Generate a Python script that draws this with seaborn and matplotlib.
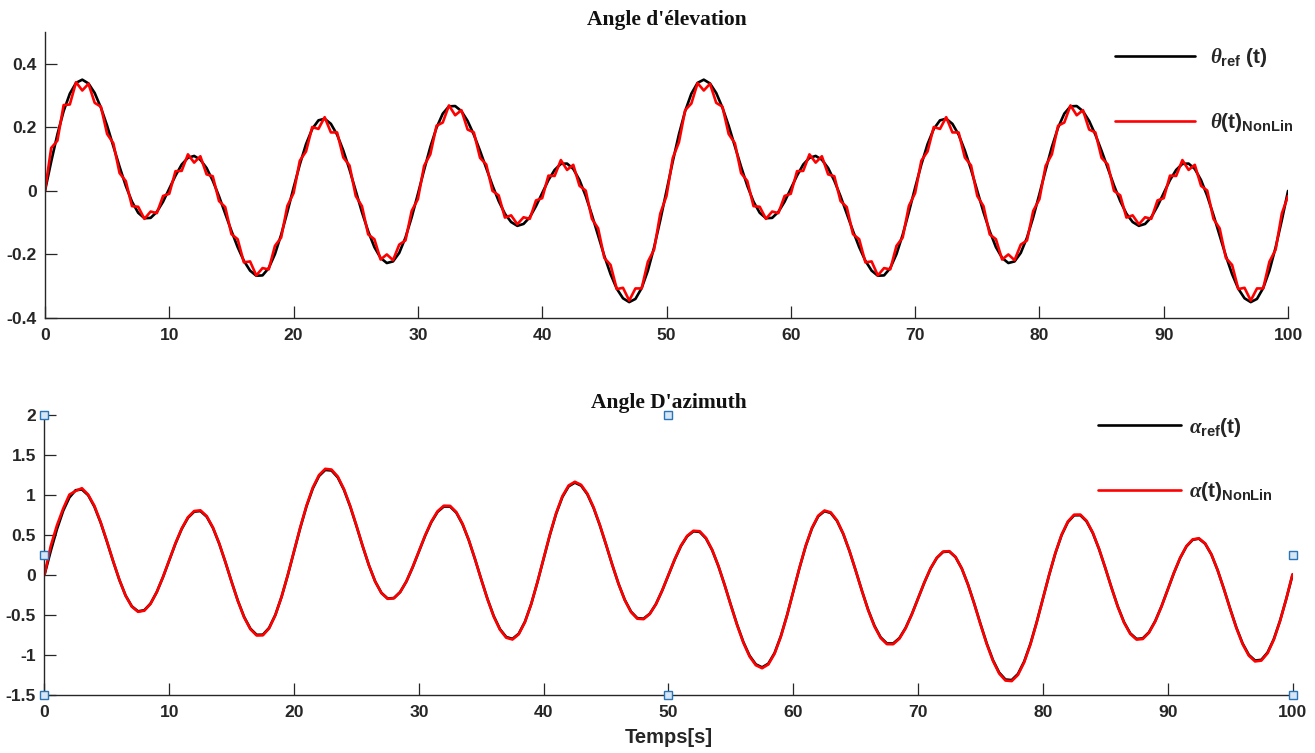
import numpy as np
import matplotlib
matplotlib.use("Agg")
import matplotlib.pyplot as plt
import seaborn as sns

# ---------------- data ----------------
time_s = np.arange(0, 100.5, 0.5)  # sampling grid, seconds

theta_ref = [
    0.000, 0.092, 0.178, 0.251, 0.306, 0.340, 0.350, 0.338, 0.308, 0.262,
    0.205, 0.141, 0.076, 0.016, -0.034, -0.069, -0.086, -0.085, -0.066, -0.034,
    0.007, 0.048, 0.083, 0.104, 0.110, 0.098, 0.072, 0.032, -0.017, -0.071,
    -0.126, -0.177, -0.220, -0.251, -0.267, -0.266, -0.243, -0.199, -0.138, -0.066,
    0.010, 0.083, 0.147, 0.195, 0.222, 0.227, 0.211, 0.177, 0.127, 0.067,
    0.000,
    -0.067, -0.127, -0.177, -0.211, -0.227, -0.222, -0.195, -0.147, -0.083, -0.010,
    0.066, 0.138, 0.199, 0.243, 0.266, 0.267, 0.251, 0.220, 0.177, 0.126,
    0.071, 0.017, -0.032, -0.072, -0.098, -0.110, -0.104, -0.083, -0.048, -0.007,
    0.034, 0.066, 0.085, 0.086, 0.069, 0.034, -0.016, -0.076, -0.141, -0.205,
    -0.262, -0.308, -0.338, -0.350, -0.340, -0.306, -0.251, -0.178, -0.092, 0.000,
    0.092, 0.178, 0.251, 0.306, 0.340, 0.350, 0.338, 0.308, 0.262,
    0.205, 0.141, 0.076, 0.016, -0.034, -0.069, -0.086, -0.085, -0.066, -0.034,
    0.007, 0.048, 0.083, 0.104, 0.110, 0.098, 0.072, 0.032, -0.017, -0.071,
    -0.126, -0.177, -0.220, -0.251, -0.267, -0.266, -0.243, -0.199, -0.138, -0.066,
    0.010, 0.083, 0.147, 0.195, 0.222, 0.227, 0.211, 0.177, 0.127, 0.067,
    0.000,
    -0.067, -0.127, -0.177, -0.211, -0.227, -0.222, -0.195, -0.147, -0.083, -0.010,
    0.066, 0.138, 0.199, 0.243, 0.266, 0.267, 0.251, 0.220, 0.177, 0.126,
    0.071, 0.017, -0.032, -0.072, -0.098, -0.110, -0.104, -0.083, -0.048, -0.007,
    0.034, 0.066, 0.085, 0.086, 0.069, 0.034, -0.016, -0.076, -0.141, -0.205,
    -0.262, -0.308, -0.338, -0.350, -0.340, -0.306, -0.251, -0.178, -0.092, 0.000,
]

theta_nonlin = [
    0.000, 0.135, 0.158, 0.270, 0.272, 0.342, 0.316, 0.337, 0.277, 0.265,
    0.179, 0.150, 0.056, 0.031, -0.048, -0.050, -0.088, -0.065, -0.070, -0.016,
    -0.009, 0.062, 0.063, 0.115, 0.089, 0.109, 0.052, 0.046, -0.032, -0.051,
    -0.136, -0.152, -0.225, -0.222, -0.266, -0.243, -0.247, -0.173, -0.147, -0.047,
    -0.007, 0.095, 0.124, 0.201, 0.195, 0.232, 0.184, 0.184, 0.105, 0.080,
    -0.016,
    -0.048, -0.137, -0.152, -0.216, -0.200, -0.218, -0.169, -0.156, -0.063, -0.026,
    0.079, 0.115, 0.205, 0.215, 0.269, 0.238, 0.254, 0.193, 0.184, 0.104,
    0.083, 0.000, -0.014, -0.084, -0.077, -0.105, -0.083, -0.088, -0.030, -0.023,
    0.048, 0.047, 0.097, 0.066, 0.082, 0.016, 0.001, -0.088, -0.118, -0.211,
    -0.233, -0.309, -0.305, -0.345, -0.307, -0.307, -0.223, -0.185, -0.071, -0.016,
    0.103, 0.153, 0.254, 0.275, 0.339, 0.316, 0.337, 0.277, 0.265,
    0.179, 0.150, 0.056, 0.031, -0.048, -0.050, -0.088, -0.065, -0.070, -0.016,
    -0.009, 0.062, 0.063, 0.115, 0.089, 0.109, 0.052, 0.046, -0.032, -0.051,
    -0.136, -0.152, -0.225, -0.222, -0.266, -0.243, -0.247, -0.173, -0.147, -0.047,
    -0.007, 0.095, 0.124, 0.201, 0.195, 0.232, 0.184, 0.184, 0.105, 0.080,
    -0.016,
    -0.048, -0.137, -0.152, -0.216, -0.200, -0.218, -0.169, -0.156, -0.063, -0.026,
    0.079, 0.115, 0.205, 0.215, 0.269, 0.238, 0.254, 0.193, 0.184, 0.104,
    0.083, 0.000, -0.014, -0.084, -0.077, -0.105, -0.083, -0.088, -0.030, -0.023,
    0.048, 0.047, 0.097, 0.066, 0.082, 0.016, 0.001, -0.088, -0.118, -0.211,
    -0.233, -0.309, -0.305, -0.345, -0.307, -0.307, -0.223, -0.185, -0.071, -0.016,
]

alpha_ref = [
    0.000, 0.298, 0.572, 0.802, 0.969, 1.060, 1.069, 0.998, 0.855, 0.656,
    0.420, 0.173, -0.060, -0.256, -0.391, -0.454, -0.440, -0.357, -0.213, -0.026,
    0.184, 0.393, 0.576, 0.715, 0.792, 0.799, 0.729, 0.589, 0.393, 0.160,
    -0.087, -0.323, -0.524, -0.670, -0.747, -0.746, -0.661, -0.499, -0.272, 0.000,
    0.297, 0.591, 0.860, 1.081, 1.237, 1.313, 1.306, 1.220, 1.064, 0.855,
    0.612, 0.358, 0.120, -0.081, -0.223, -0.294, -0.288, -0.213, -0.081, 0.095,
    0.293, 0.489, 0.661, 0.789, 0.856, 0.855, 0.779, 0.634, 0.435, 0.197,
    -0.056, -0.300, -0.514, -0.677, -0.775, -0.798, -0.734, -0.584, -0.363, -0.090,
    0.207, 0.502, 0.766, 0.975, 1.108, 1.154, 1.117, 1.009, 0.838, 0.621,
    0.377, 0.125, -0.111, -0.311, -0.458, -0.539, -0.546, -0.484, -0.362, -0.193,
    0.000,
    0.193, 0.362, 0.484, 0.546, 0.539, 0.458, 0.311, 0.111, -0.125, -0.377,
    -0.621, -0.838, -1.009, -1.117, -1.154, -1.108, -0.975, -0.766, -0.502, -0.207,
    0.090, 0.363, 0.584, 0.734, 0.798, 0.775, 0.677, 0.514, 0.300, 0.056,
    -0.197, -0.435, -0.634, -0.779, -0.855, -0.856, -0.789, -0.661, -0.489, -0.293,
    -0.095, 0.081, 0.213, 0.288, 0.294, 0.223, 0.081, -0.120, -0.358, -0.612,
    -0.855, -1.064, -1.220, -1.306, -1.313, -1.237, -1.081, -0.860, -0.591, -0.297,
    0.000, 0.272, 0.499, 0.661, 0.746, 0.747, 0.670, 0.524, 0.323, 0.087,
    -0.160, -0.393, -0.589, -0.729, -0.799, -0.792, -0.715, -0.576, -0.393, -0.184,
    0.026, 0.213, 0.357, 0.440, 0.454, 0.391, 0.256, 0.060, -0.173, -0.420,
    -0.656, -0.855, -0.998, -1.069, -1.060, -0.969, -0.802, -0.572, -0.298, 0.000,
]

alpha_nonlin = [
    0.000, 0.360, 0.620, 0.830, 1.005, 1.050, 1.085, 1.005, 0.865, 0.662,
    0.425, 0.176, -0.058, -0.258, -0.395, -0.460, -0.446, -0.360, -0.213, -0.024,
    0.188, 0.398, 0.582, 0.722, 0.800, 0.808, 0.736, 0.594, 0.396, 0.161,
    -0.088, -0.326, -0.530, -0.677, -0.756, -0.754, -0.667, -0.502, -0.272, 0.002,
    0.301, 0.597, 0.868, 1.092, 1.249, 1.327, 1.318, 1.231, 1.073, 0.862,
    0.617, 0.361, 0.121, -0.082, -0.226, -0.298, -0.291, -0.214, -0.080, 0.098,
    0.297, 0.494, 0.668, 0.797, 0.866, 0.864, 0.786, 0.640, 0.438, 0.198,
    -0.057, -0.303, -0.520, -0.684, -0.784, -0.806, -0.741, -0.589, -0.365, -0.088,
    0.211, 0.508, 0.774, 0.985, 1.119, 1.165, 1.127, 1.017, 0.845, 0.626,
    0.380, 0.126, -0.112, -0.315, -0.464, -0.546, -0.552, -0.488, -0.364, -0.192,
    0.003,
    0.197, 0.367, 0.490, 0.553, 0.547, 0.464, 0.315, 0.113, -0.126, -0.381,
    -0.627, -0.846, -1.019, -1.128, -1.165, -1.118, -0.983, -0.772, -0.505, -0.206,
    0.093, 0.368, 0.590, 0.742, 0.806, 0.783, 0.683, 0.518, 0.302, 0.056,
    -0.199, -0.440, -0.641, -0.787, -0.864, -0.865, -0.796, -0.666, -0.492, -0.293,
    -0.093, 0.084, 0.216, 0.292, 0.298, 0.226, 0.082, -0.121, -0.361, -0.618,
    -0.863, -1.074, -1.232, -1.319, -1.326, -1.249, -1.091, -0.868, -0.595, -0.297,
    0.003, 0.276, 0.504, 0.668, 0.754, 0.755, 0.677, 0.529, 0.326, 0.088,
    -0.161, -0.397, -0.595, -0.736, -0.807, -0.800, -0.721, -0.580, -0.395, -0.183,
    0.029, 0.216, 0.361, 0.445, 0.459, 0.395, 0.258, 0.061, -0.174, -0.424,
    -0.662, -0.863, -1.008, -1.080, -1.070, -0.978, -0.809, -0.576, -0.298, 0.010,
]

# selection handles visible on the lower axes (data coordinates)
handle_t = [0, 0, 0, 50, 50, 100, 100]
handle_v = [2.0, 0.25, -1.5, 2.0, -1.5, 0.25, -1.5]

title_top = "Angle d'élevation"
title_bottom = "Angle D'azimuth"
xlabel_bottom = "Temps[s]"
labels_top = [r"$\theta_{\mathrm{ref}}\ \mathrm{(t)}$", r"$\theta\mathrm{(t)}_{\mathrm{NonLin}}$"]
labels_bottom = [r"$\alpha_{\mathrm{ref}}\mathrm{(t)}$", r"$\alpha\mathrm{(t)}_{\mathrm{NonLin}}$"]

# ---------------- style ----------------
sns.set_style("white")
plt.rcParams["font.family"] = ["Liberation Sans", "DejaVu Sans"]
plt.rcParams["font.weight"] = "bold"
plt.rcParams["mathtext.fontset"] = "custom"
plt.rcParams["mathtext.rm"] = "Liberation Sans:bold"
plt.rcParams["mathtext.bf"] = "Liberation Sans:bold"
plt.rcParams["mathtext.it"] = "Liberation Serif:italic"
plt.rcParams["mathtext.sf"] = "Liberation Sans:bold"

AX_COL = "#262626"
LW = 1.9

fig = plt.figure(figsize=(13.15, 7.53), dpi=100)
ax1 = fig.add_axes([0.0342, 0.5777, 0.9453, 0.3798])
ax2 = fig.add_axes([0.0338, 0.0770, 0.9491, 0.3719])

sns.lineplot(x=time_s, y=theta_ref, ax=ax1, color="black", lw=LW, label=labels_top[0])
sns.lineplot(x=time_s, y=theta_nonlin, ax=ax1, color="red", lw=LW, label=labels_top[1])
sns.lineplot(x=time_s, y=alpha_ref, ax=ax2, color="black", lw=LW, label=labels_bottom[0])
sns.lineplot(x=time_s, y=alpha_nonlin, ax=ax2, color="red", lw=LW, label=labels_bottom[1])

ax2.plot(handle_t, handle_v, ls="none", marker="s", ms=5.5, mfc="#d6e6f5",
         mec="#2a74b8", mew=1.0, clip_on=False, zorder=6)

for ax in (ax1, ax2):
    ax.set_xlim(0, 100)
    ax.set_xticks(range(0, 101, 10))
    for side in ("top", "right"):
        ax.spines[side].set_visible(False)
    for side in ("left", "bottom"):
        ax.spines[side].set_color(AX_COL)
        ax.spines[side].set_linewidth(1.0)
    ax.tick_params(bottom=True, left=True, top=False, right=False,
                   direction="in", length=8.6, width=0.9, colors=AX_COL,
                   labelsize=12.6)
    ax.tick_params(axis="x", pad=7)
    ax.tick_params(axis="y", pad=6)
    ax.set_xlabel("")
    ax.set_ylabel("")

ax1.set_ylim(-0.4, 0.5)
ax1.set_yticks([-0.4, -0.2, 0, 0.2, 0.4])
ax1.set_yticklabels(["-0.4", "-0.2", "0", "0.2", "0.4"])
ax2.set_ylim(-1.5, 2)
ax2.set_yticks([-1.5, -1, -0.5, 0, 0.5, 1, 1.5, 2])
ax2.set_yticklabels(["-1.5", "-1", "-0.5", "0", "0.5", "1", "1.5", "2"])

ax1.set_title(title_top, family="Liberation Serif", weight="bold", fontsize=15.5,
              pad=5, color="#111111")
ax2.set_title(title_bottom, family="Liberation Serif", weight="bold", fontsize=15.5,
              pad=5, color="#111111")
ax2.set_xlabel(xlabel_bottom, fontsize=14.5, weight="bold", color=AX_COL, labelpad=6)

leg1 = ax1.legend(loc="center left", bbox_to_anchor=(0.861, 0.797), frameon=False,
                  fontsize=15, handlelength=3.85, handletextpad=0.7, labelspacing=2.0,
                  borderpad=0, borderaxespad=0)
leg2 = ax2.legend(loc="center left", bbox_to_anchor=(0.844, 0.841), frameon=False,
                  fontsize=15, handlelength=4.0, handletextpad=0.4, labelspacing=2.0,
                  borderpad=0, borderaxespad=0)
leg2.set_zorder(10)

fig.savefig("out.png", dpi=100)
